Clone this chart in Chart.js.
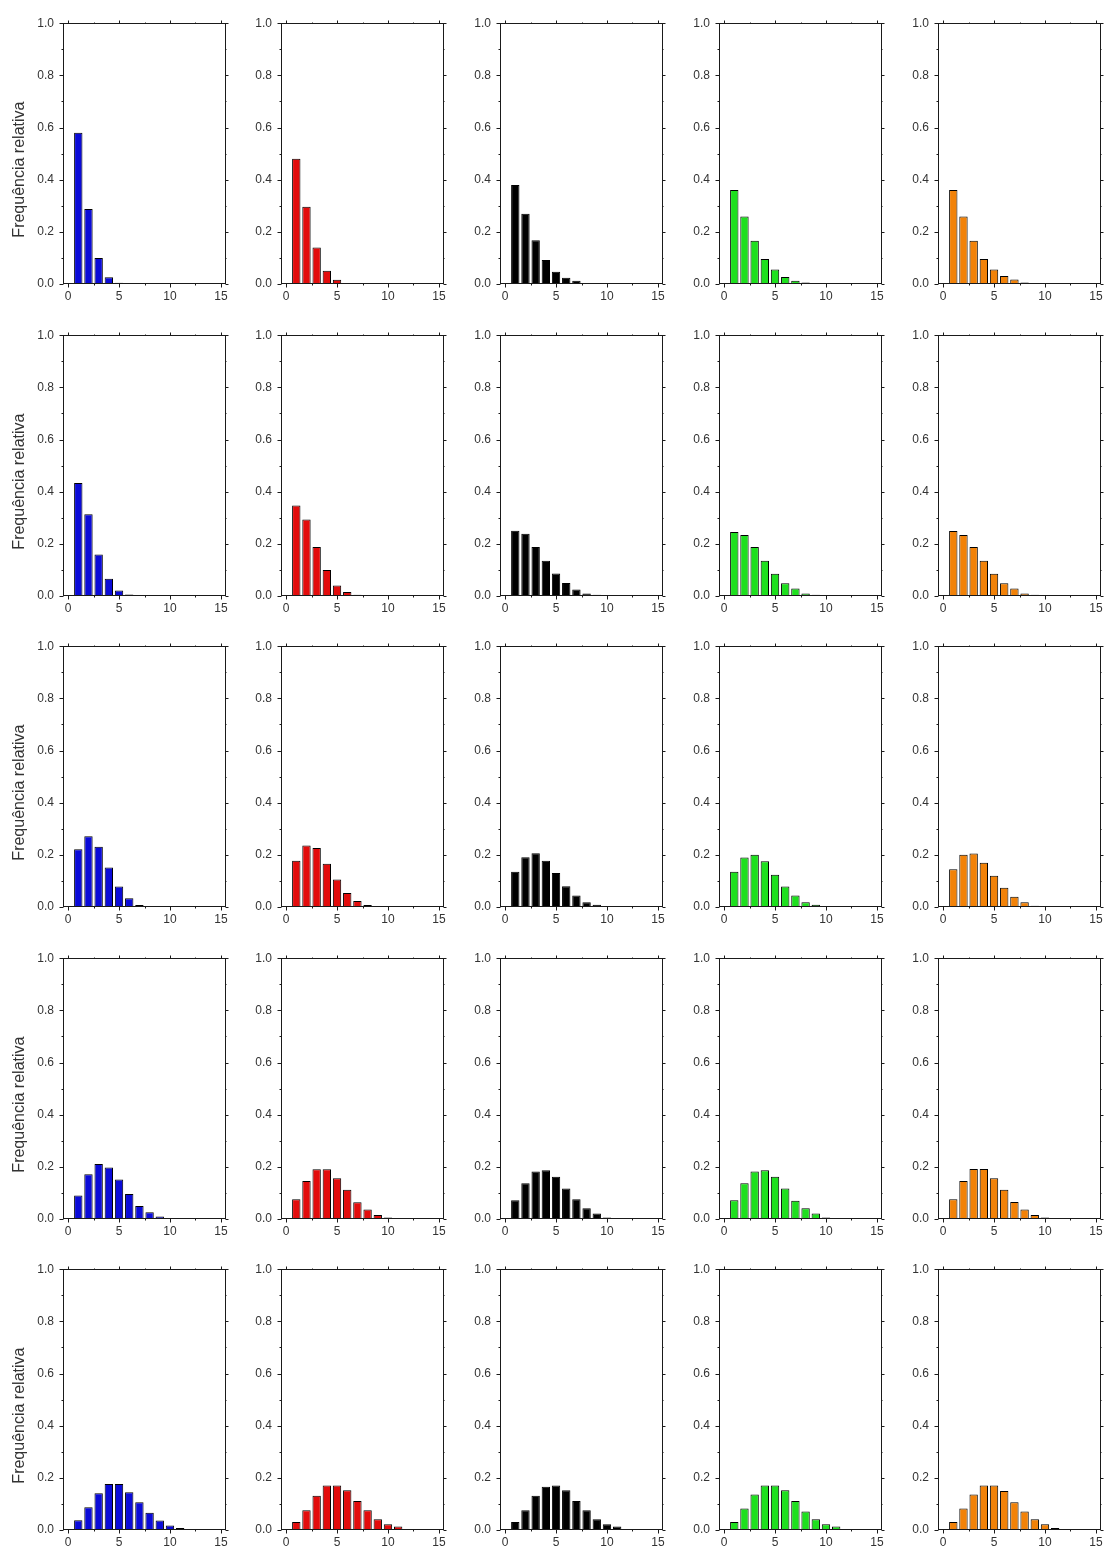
<!DOCTYPE html>
<html>
<head>
<meta charset="utf-8">
<script src="https://cdn.jsdelivr.net/npm/chart.js@4"></script>
<style>
  body { margin: 0; background: #fff; }
  #grid { position: relative; width: 1105px; height: 1551px; }
  #grid canvas { position: absolute; }
</style>
</head>
<body>
<div id="grid"></div>
<script>
// Histogram bins (x = 1, 2, 3, ...)
const bins = [1, 2, 3, 4, 5, 6, 7, 8, 9, 10, 11];
const xTicks = [0, 5, 10, 15];
const yTicks = [0, 0.2, 0.4, 0.6, 0.8, 1.0];
const yTitle = 'Frequência relativa';

// Relative frequencies, one array per panel (row by row)
const row1Blue   = [0.58, 0.288, 0.10, 0.026, 0.005];
const row1Red    = [0.48, 0.296, 0.14, 0.051, 0.016];
const row1Black  = [0.38, 0.269, 0.168, 0.092, 0.047, 0.024, 0.012];
const row1Green  = [0.36, 0.259, 0.166, 0.096, 0.056, 0.027, 0.012, 0.006];
const row1Orange = [0.36, 0.259, 0.166, 0.096, 0.056, 0.031, 0.017, 0.006];

const row2Blue   = [0.433, 0.313, 0.159, 0.066, 0.021, 0.006];
const row2Red    = [0.347, 0.293, 0.188, 0.10, 0.04, 0.015, 0.005];
const row2Black  = [0.25, 0.239, 0.188, 0.135, 0.086, 0.05, 0.025, 0.01, 0.005];
const row2Green  = [0.245, 0.234, 0.188, 0.135, 0.085, 0.049, 0.029, 0.01, 0.005];
const row2Orange = [0.249, 0.234, 0.188, 0.135, 0.085, 0.049, 0.029, 0.01, 0.005];

const row3Blue   = [0.221, 0.271, 0.231, 0.151, 0.079, 0.034, 0.008];
const row3Red    = [0.177, 0.236, 0.226, 0.166, 0.105, 0.054, 0.023, 0.008];
const row3Black  = [0.135, 0.191, 0.206, 0.177, 0.13, 0.08, 0.044, 0.018, 0.009];
const row3Green  = [0.135, 0.19, 0.2, 0.175, 0.124, 0.079, 0.044, 0.018, 0.009];
const row3Orange = [0.145, 0.2, 0.205, 0.17, 0.12, 0.074, 0.039, 0.018, 0.005];

const row4Blue   = [0.09, 0.172, 0.211, 0.197, 0.151, 0.096, 0.05, 0.026, 0.01];
const row4Red    = [0.076, 0.146, 0.191, 0.191, 0.156, 0.112, 0.064, 0.036, 0.015, 0.006];
const row4Black  = [0.072, 0.137, 0.182, 0.187, 0.162, 0.117, 0.076, 0.041, 0.021, 0.006];
const row4Green  = [0.072, 0.137, 0.182, 0.187, 0.162, 0.117, 0.07, 0.041, 0.021, 0.006];
const row4Orange = [0.076, 0.146, 0.192, 0.192, 0.156, 0.112, 0.065, 0.036, 0.015, 0.006];

const row5Blue   = [0.037, 0.087, 0.141, 0.176, 0.176, 0.145, 0.106, 0.066, 0.036, 0.017, 0.008];
const row5Red    = [0.031, 0.076, 0.131, 0.171, 0.171, 0.152, 0.111, 0.076, 0.041, 0.022, 0.013];
const row5Black  = [0.031, 0.076, 0.131, 0.166, 0.171, 0.152, 0.111, 0.076, 0.041, 0.022, 0.013];
const row5Green  = [0.031, 0.082, 0.136, 0.171, 0.171, 0.152, 0.111, 0.071, 0.041, 0.022, 0.013];
const row5Orange = [0.031, 0.082, 0.136, 0.171, 0.171, 0.15, 0.106, 0.071, 0.041, 0.022, 0.008];

const panels = [
    [row1Blue, row1Red, row1Black, row1Green, row1Orange],
    [row2Blue, row2Red, row2Black, row2Green, row2Orange],
    [row3Blue, row3Red, row3Black, row3Green, row3Orange],
    [row4Blue, row4Red, row4Black, row4Green, row4Orange],
    [row5Blue, row5Red, row5Black, row5Green, row5Orange]
];
const colors = ['#0b0bd8', '#e30c0c', '#000000', '#1ee01e', '#f28208'];

// Grid geometry
const axisLeft = [63, 281, 500, 719, 938];
const plotW = 163;
const plotH = 265;
const rowTop = [19, 331, 642, 954, 1265];
const padTop = 8, padRight = 8, xAxisH = 22;

const fontFamily = "'Liberation Sans', Arial, sans-serif";
const font = { family: fontFamily, size: 12 };
const textColor = '#333';

// Draws the box around the plot and the tick marks (major + minor)
const framePlugin = {
    id: 'frame',
    afterDraw(chart) {
        const { ctx, chartArea: a, scales: { x, y } } = chart;
        const l = Math.round(a.left) + 0.5, r = Math.round(a.right) - 0.5;
        const t = Math.round(a.top) + 0.5, b = Math.round(a.bottom) - 0.5;
        ctx.save();
        ctx.strokeStyle = '#1a1a1a';
        ctx.lineWidth = 1;
        ctx.strokeRect(l, t, r - l, b - t);
        ctx.beginPath();
        for (let i = 0; i <= 10; i++) {
            const py = Math.round(y.getPixelForValue(i / 10)) + 0.5;
            const len = i % 2 === 0 ? 4 : 2;
            ctx.moveTo(l, py); ctx.lineTo(l - len, py);
            ctx.moveTo(r, py); ctx.lineTo(r + len - 1, py);
        }
        for (let i = 0; i <= 6; i++) {
            const px = Math.round(x.getPixelForValue(i * 2.5)) + 0.5;
            const len = i % 2 === 0 ? 4 : 2;
            ctx.moveTo(px, b); ctx.lineTo(px, b + len);
            ctx.moveTo(px, t); ctx.lineTo(px, t - len + 1);
        }
        ctx.stroke();

        // y title on the first column, sitting a little below the plot centre
        if (chart.options.plugins.frame && chart.options.plugins.frame.title) {
            ctx.translate(20, (a.top + a.bottom) / 2 + 16);
            ctx.rotate(-Math.PI / 2);
            ctx.font = '16px ' + fontFamily;
            ctx.fillStyle = textColor;
            ctx.textAlign = 'center';
            ctx.textBaseline = 'middle';
            ctx.fillText(chart.options.plugins.frame.title, 0, 0);
        }
        ctx.restore();
    }
};

function makePanel(row, col) {
    const values = panels[row][col];
    const yW = col === 0 ? axisLeft[0] : 40;
    const canvas = document.createElement('canvas');
    const w = yW + plotW + padRight;
    const h = padTop + plotH + xAxisH;
    canvas.width = w;
    canvas.height = h;
    canvas.style.width = w + 'px';
    canvas.style.height = h + 'px';
    canvas.style.left = (axisLeft[col] - yW) + 'px';
    canvas.style.top = (rowTop[row] - padTop) + 'px';
    document.getElementById('grid').appendChild(canvas);

    new Chart(canvas.getContext('2d'), {
        type: 'bar',
        data: {
            datasets: [{
                data: values.map((v, i) => ({ x: bins[i], y: v })),
                backgroundColor: colors[col],
                borderColor: '#000',
                borderWidth: 1,
                barPercentage: 0.82,
                categoryPercentage: 1.0
            }]
        },
        options: {
            responsive: false,
            animation: false,
            layout: { padding: { top: padTop, right: padRight, left: 0, bottom: 0 } },
            plugins: {
                legend: { display: false },
                tooltip: { enabled: false },
                frame: { title: col === 0 ? yTitle : null }
            },
            scales: {
                x: {
                    type: 'linear',
                    offset: false,
                    min: -0.5,
                    max: 15.5,
                    grid: { display: false, drawTicks: true, tickLength: 4, offset: false },
                    border: { display: false },
                    afterBuildTicks: scale => { scale.ticks = xTicks.map(v => ({ value: v })); },
                    afterFit: scale => { scale.height = xAxisH; },
                    ticks: { font, color: textColor, padding: 1, maxRotation: 0 }
                },
                y: {
                    min: 0,
                    max: 1,
                    grid: { display: false, drawTicks: true, tickLength: 4 },
                    border: { display: false },
                    afterBuildTicks: scale => { scale.ticks = yTicks.map(v => ({ value: v })); },
                    afterFit: scale => { scale.width = yW; },
                    ticks: {
                        font, color: textColor, padding: 5,
                        callback: v => v.toFixed(1)
                    }
                }
            }
        },
        plugins: [framePlugin]
    });
}

for (let r = 0; r < 5; r++) {
    for (let c = 0; c < 5; c++) {
        makePanel(r, c);
    }
}
</script>
</body>
</html>
